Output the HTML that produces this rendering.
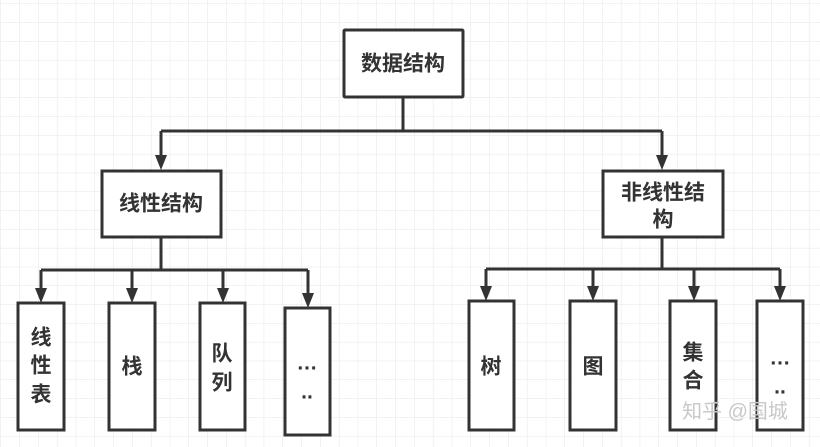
<!DOCTYPE html>
<html><head><meta charset="utf-8"><style>
html,body{margin:0;padding:0;background:#fff}
svg{display:block}
text{font-family:"Liberation Sans","Noto Sans CJK SC",sans-serif;font-weight:bold;fill:#333;font-size:21px;text-anchor:middle;dominant-baseline:central}
</style></head><body>
<svg width="820" height="447" viewBox="0 0 820 447" xmlns="http://www.w3.org/2000/svg">
<defs>
<pattern id="g" width="18.8" height="18.8" patternUnits="userSpaceOnUse" x="1" y="4">
<path d="M18.8 0V18.8M0 18.8H18.8" stroke="#e6e6e6" stroke-width="1" fill="none"/>
</pattern>
</defs>
<rect width="820" height="447" fill="url(#g)"/>
<g stroke="#333" stroke-width="3" fill="none">
<path d="M403 98V131M161 131H662M161 131V158M662 131V158"/>
<path d="M161 237V270M41 270H308M41 270V291M132 270V291M223 270V291M308 270V296"/>
<path d="M662 237V269M486 269H780M486 269V289M593 269V289M694 269V289M780 269V289"/>
</g>
<g fill="#333">
<path d="M155 155h12l-6 15z"/><path d="M656 155h12l-6 15z"/>
<path d="M35 288h12l-6 15z"/><path d="M126 288h12l-6 15z"/><path d="M217 288h12l-6 15z"/><path d="M302 293h12l-6 15z"/>
<path d="M480 286h12l-6 15z"/><path d="M587 286h12l-6 15z"/><path d="M688 286h12l-6 15z"/><path d="M774 286h12l-6 15z"/>
</g>
<g stroke="#333" stroke-width="3" fill="#fff">
<rect x="344" y="30" width="119" height="67" rx="1"/>
<rect x="102" y="171" width="119" height="66"/>
<rect x="603" y="171" width="120" height="66"/>
<rect x="18" y="303" width="46" height="127"/>
<rect x="109" y="303" width="46" height="127"/>
<rect x="200" y="303" width="45" height="127"/>
<rect x="285" y="308" width="45" height="127"/>
<rect x="469" y="301" width="45" height="129"/>
<rect x="570" y="301" width="46" height="129"/>
<rect x="670" y="301" width="46" height="129"/>
<rect x="757" y="301" width="46" height="129"/>
</g>
<text x="403" y="64">数据结构</text>
<text x="161" y="204">线性结构</text>
<text x="663" y="193">非线性结</text>
<text x="663" y="220">构</text>
<text x="41" y="338">线</text><text x="41" y="366">性</text><text x="41" y="395">表</text>
<text x="132" y="367">栈</text>
<text x="222" y="354">队</text><text x="222" y="383">列</text>
<text x="307" y="363" font-size="16">…</text><text x="307" y="392" font-size="16">..</text>
<text x="491" y="367">树</text>
<text x="593" y="367">图</text>
<text x="693" y="353">集</text><text x="693" y="381">合</text>
<text x="780" y="358" font-size="16">…</text><text x="780" y="387" font-size="16">..</text>
<text x="735" y="412" style="font-weight:normal;fill:#c8c8c8;font-size:20px">知乎 @国城</text>
</svg>
</body></html>
